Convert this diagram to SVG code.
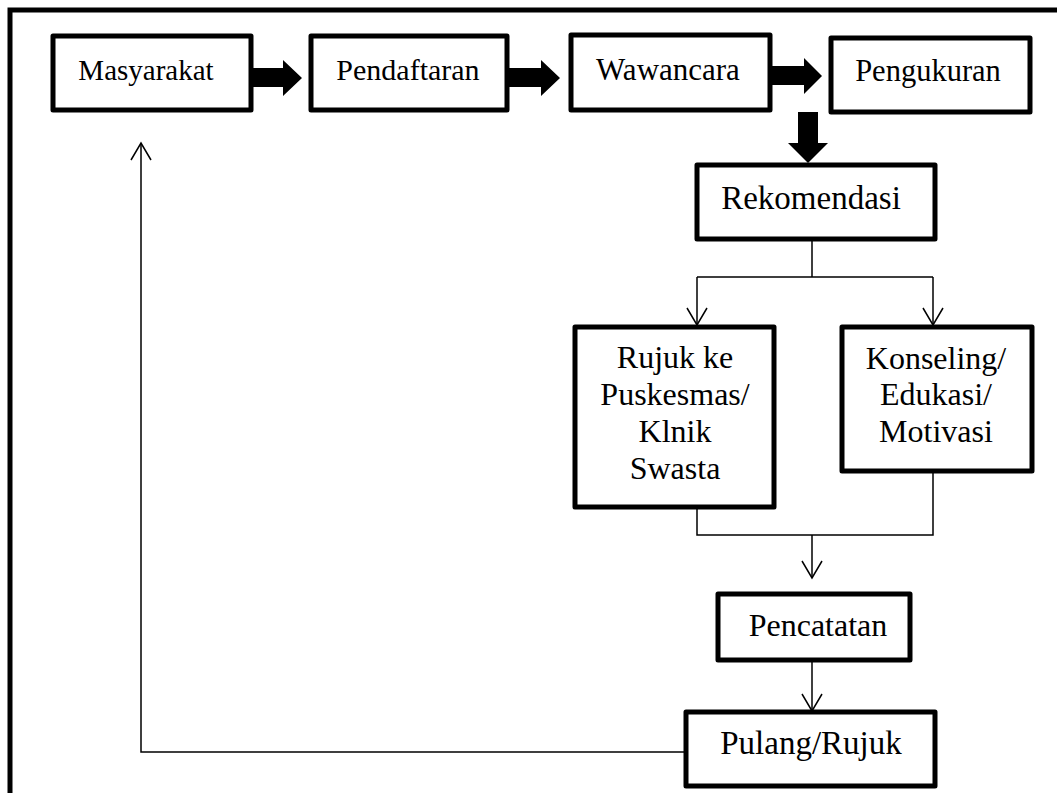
<svg xmlns="http://www.w3.org/2000/svg" width="1057" height="793" viewBox="0 0 1057 793">
<style>
.box{fill:#fff;stroke:#000;stroke-width:5;stroke-linejoin:round}
.t{font-family:"Liberation Serif","Times New Roman",serif;font-size:30px;fill:#000;text-anchor:middle}
.ln{fill:none;stroke:#000;stroke-width:1.5}
.blk{fill:#000;stroke:none}
</style>
<defs>
<marker id="v" viewBox="-20 -12 22 24" refX="0" refY="0" markerWidth="22" markerHeight="24" markerUnits="userSpaceOnUse" orient="auto">
<path d="M-17,-10 L0,0 L-17,10" fill="none" stroke="#000" stroke-width="1.5"/>
</marker>
</defs>
<rect width="1057" height="793" fill="#fff"/>
<path d="M10,793 V10 H1057" fill="none" stroke="#000" stroke-width="5"/>
<g id="connectors">
<polygon class="blk" points="251,68 283,68 283,60 302,78 283,96 283,87 251,87"/>
<polygon class="blk" points="507,68 541,68 541,60 560,78 541,96 541,87 507,87"/>
<polygon class="blk" points="770,66 804,66 804,58 822,76 804,94 804,85 770,85"/>
<polygon class="blk" points="798,112 818,112 818,143 828,143 808,163 788,143 798,143"/>
<path class="ln" d="M812,240 V277 M697,277 H933"/>
<path class="ln" d="M697,277 V325" marker-end="url(#v)"/>
<path class="ln" d="M933,277 V325" marker-end="url(#v)"/>
<path class="ln" d="M697,507 V535 H933 V471"/>
<path class="ln" d="M812,535 V578" marker-end="url(#v)"/>
<path class="ln" d="M812,658 V711" marker-end="url(#v)"/>
<path class="ln" d="M685,752 H141 V143" marker-end="url(#v)"/>
</g>
<g id="masyarakat"><rect class="box" x="53" y="36" width="198" height="74"/><text class="t" x="146" y="80" style="font-size:29px">Masyarakat</text></g>
<g id="pendaftaran"><rect class="box" x="311" y="36" width="196" height="74"/><text class="t" x="408" y="80">Pendaftaran</text></g>
<g id="wawancara"><rect class="box" x="571" y="35" width="199" height="75"/><text class="t" x="668" y="80" style="font-size:31px">Wawancara</text></g>
<g id="pengukuran"><rect class="box" x="831" y="38" width="199" height="74"/><text class="t" x="928" y="81" style="font-size:30.5px">Pengukuran</text></g>
<g id="rekomendasi"><rect class="box" x="697" y="165" width="238" height="74"/><text class="t" x="811" y="209" style="font-size:33px">Rekomendasi</text></g>
<g id="rujuk"><rect class="box" x="575" y="327" width="199" height="180"/><text class="t" x="675" y="368" style="font-size:32px">Rujuk ke</text><text class="t" x="675" y="405" style="font-size:32px">Puskesmas/</text><text class="t" x="675" y="442" style="font-size:32px">Klnik</text><text class="t" x="675" y="479" style="font-size:32px">Swasta</text></g>
<g id="konseling"><rect class="box" x="842" y="327" width="190" height="144"/><text class="t" x="936" y="369" style="font-size:32px">Konseling/</text><text class="t" x="936" y="405" style="font-size:32px">Edukasi/</text><text class="t" x="936" y="442" style="font-size:32px">Motivasi</text></g>
<g id="pencatatan"><rect class="box" x="718" y="594" width="192" height="66"/><text class="t" x="818" y="636" style="font-size:32px">Pencatatan</text></g>
<g id="pulang"><rect class="box" x="686" y="712" width="249" height="74"/><text class="t" x="811" y="754" style="font-size:33px">Pulang/Rujuk</text></g>
</svg>
